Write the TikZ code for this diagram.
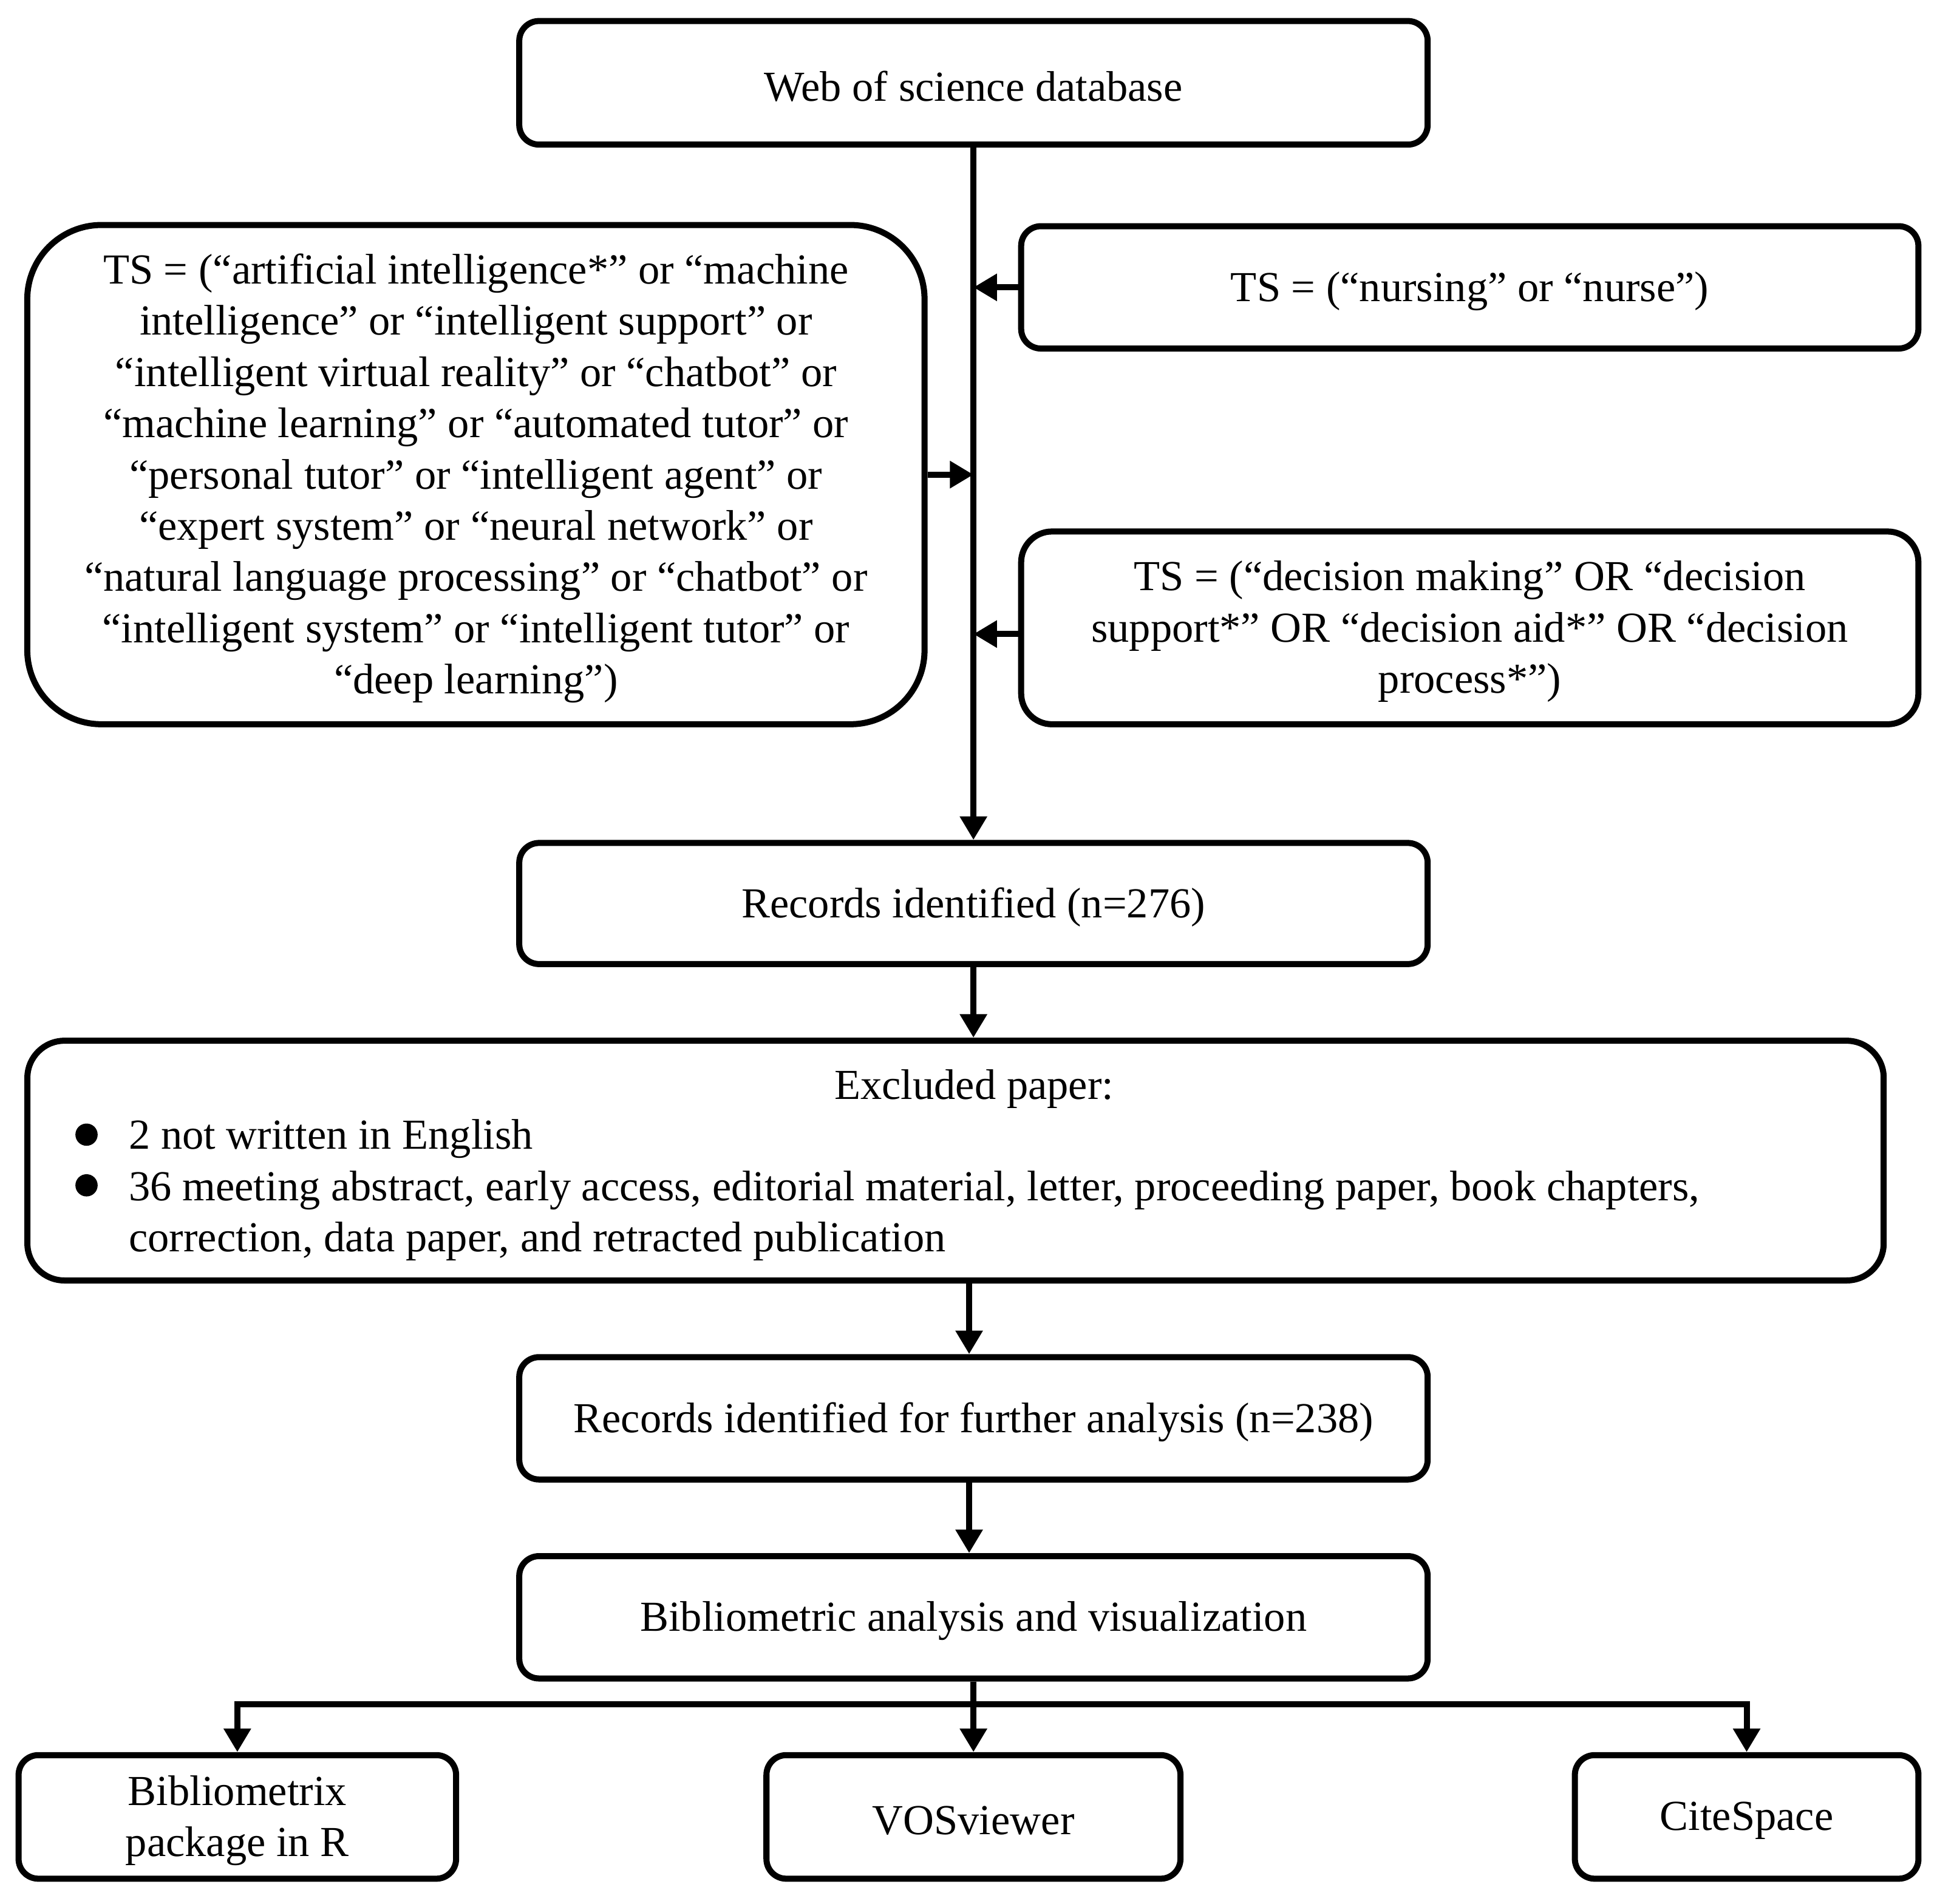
\documentclass[tikz,border=0pt]{standalone}
\usepackage{fontspec}
\setmainfont{Liberation Serif}
\usetikzlibrary{arrows.meta}
\begin{document}
\begin{tikzpicture}[x=0.02cm,y=-0.02cm,
  txt/.style={font=\fontsize{19.7}{23.6}\selectfont, inner sep=0pt},
  lt/.style={txt, align=center, yshift=-0.06cm},
  box/.style={draw, line width=2.8pt, rounded corners=0.32cm, inner sep=0pt},
  conn/.style={line width=2.8pt, -{Triangle[length=0.38cm,width=0.42cm]}},
  plain/.style={line width=2.8pt},
  dot/.style={circle, fill, inner sep=0pt, minimum size=0.36cm}]
\useasboundingbox (0,0) rectangle (1567,1540);

\node[box, minimum width=14.7cm, minimum height=2cm,
  label={[lt]center:{Web of science database}}] (web) at (787.5,67) {};

\node[box, rounded corners=1.2cm, minimum width=14.52cm, minimum height=8.08cm,
  label={[lt]center:{TS = (“artificial intelligence*” or “machine\\
  intelligence” or “intelligent support” or\\
  “intelligent virtual reality” or “chatbot” or\\
  “machine learning” or “automated tutor” or\\
  “personal tutor” or “intelligent agent” or\\
  “expert system” or “neural network” or\\
  “natural language processing” or “chatbot” or\\
  “intelligent system” or “intelligent tutor” or\\
  “deep learning”)}}] (lb) at (385,384) {};

\node[box, minimum width=14.52cm, minimum height=1.98cm,
  label={[lt]center:{TS = (“nursing” or “nurse”)}}] (rt) at (1189,232.5) {};

\node[box, rounded corners=0.5cm, minimum width=14.52cm, minimum height=3.12cm,
  label={[lt]center:{TS = (“decision making” OR “decision\\
  support*” OR “decision aid*” OR “decision\\
  process*”)}}] (r2) at (1189,508) {};

\node[box, minimum width=14.7cm, minimum height=1.96cm,
  label={[lt]center:{Records identified (n=276)}}] (rec1) at (787.5,731) {};

\node[box, rounded corners=0.6cm, minimum width=30.04cm, minimum height=3.88cm] (excl) at (773,939) {};
\node[txt] (exh) at (788,881) {Excluded paper:};
\node[txt, anchor=west, align=left] (exl) at (104,963)
 {2 not written in English\\
  36 meeting abstract, early access, editorial material, letter, proceeding paper, book chapters,\\
  correction, data paper, and retracted publication};
\node[dot] (b1) at (70,918) {};
\node[dot] (b2) at (70,959) {};

\node[box, minimum width=14.7cm, minimum height=1.98cm,
  label={[lt]center:{Records identified for further analysis (n=238)}}] (rec2) at (787.5,1147.5) {};

\node[box, minimum width=14.7cm, minimum height=1.98cm,
  label={[lt]center:{Bibliometric analysis and visualization}}] (bib) at (787.5,1308.5) {};

\node[box, minimum width=7.08cm, minimum height=2cm,
  label={[lt]center:{Bibliometrix\\package in R}}] (bx) at (192,1470) {};
\node[box, minimum width=6.7cm, minimum height=2cm,
  label={[lt]center:{VOSviewer}}] (vos) at (787.5,1470) {};
\node[box, minimum width=5.56cm, minimum height=2cm,
  label={[lt]center:{CiteSpace}}] (cite) at (1413,1470) {};

% trunk
\draw[conn] (web.south) -- (rec1.north);
\draw[conn] (rt.west) -- (rt.west -| web.south);
\draw[conn] (lb.east) -- (lb.east -| web.south);
\draw[conn] ([yshift=-0.1cm]r2.west) -- ([yshift=-0.1cm]r2.west -| web.south);

\draw[conn] (rec1.south) -- (rec1.south |- excl.north);
\draw[conn] ([xshift=-0.07cm]rec2.north |- excl.south) -- ([xshift=-0.07cm]rec2.north);
\draw[conn] ([xshift=-0.07cm]bib.north |- rec2.south) -- ([xshift=-0.07cm]bib.north);

\coordinate (fan) at (787.5,1379);
\draw[plain] (bib.south) -- (fan);
\draw[conn] (fan) -- (vos.north);
\draw[conn] (fan) -| (bx.north);
\draw[conn] (fan) -| (cite.north);
\end{tikzpicture}
\end{document}
